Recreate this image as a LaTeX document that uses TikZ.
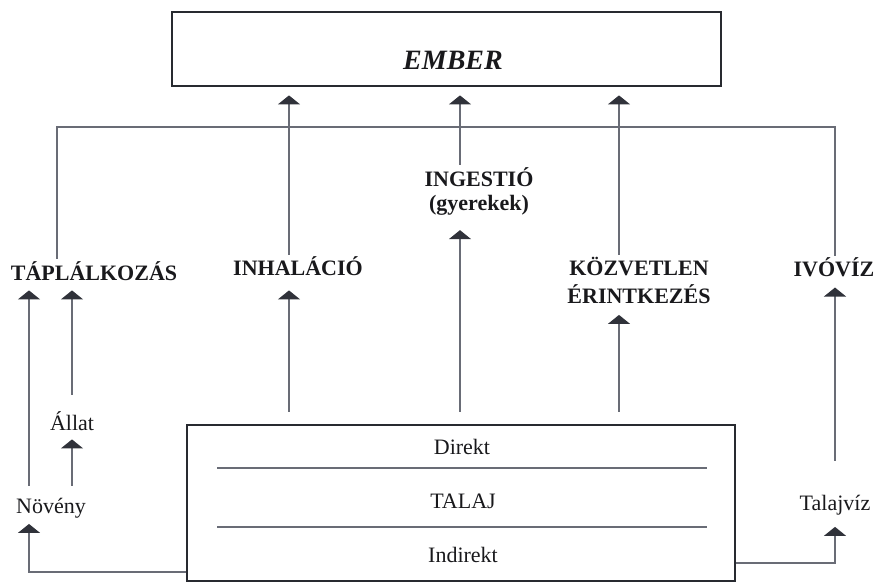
\documentclass[tikz,border=0pt]{standalone}
\usepackage{fontspec}
\setmainfont{Liberation Serif}
\usepackage{xcolor}
\usetikzlibrary{arrows.meta}
\definecolor{linegray}{RGB}{105,108,118}
\definecolor{boxgray}{RGB}{40,42,48}
\definecolor{headgray}{RGB}{48,50,58}
\definecolor{inkblack}{RGB}{25,25,28}
\tikzset{
    box/.style={draw=boxgray, line width=2.8pt, inner sep=0pt},
    link/.style={draw=linegray, line width=1.3pt},
    arr/.style={link, -{Triangle[width=22pt,length=9pt,color=headgray]}},
    lbl/.style={font=\fontsize{22}{24}\selectfont\bfseries, text=inkblack, inner sep=2pt, align=center},
    txt/.style={font=\fontsize{22}{24}\selectfont, text=inkblack, inner sep=2pt},
}
\begin{document}
\begin{tikzpicture}[x=1pt, y=-1pt]
        \useasboundingbox (0,0) rectangle (878,585);

        % the two boxes
        \node[box, minimum width=549pt, minimum height=74pt] (ember) at (446.5,49) {};
        \node[font=\fontsize{28}{30}\selectfont\bfseries\itshape, text=inkblack, anchor=base] (emberlbl) at (453,70) {EMBER};
        \node[box, minimum width=548pt, minimum height=156pt] (talaj) at (461,503) {};
        \draw [linegray, line width=1.2pt] (217,468) -- (707,468);
        \draw [linegray, line width=1.2pt] (217,527) -- (707,527);
        \node[txt, anchor=base] (direkt) at (462,454) {Direkt};
        \node[txt, anchor=base] (talajlbl) at (463,508) {TALAJ};
        \node[txt, anchor=base] (indirekt) at (463,562) {Indirekt};

        % exposure routes
        \node[lbl, anchor=base] (tapl) at (94,280) {TÁPLÁLKOZÁS};
        \node[lbl, anchor=base] (inhal) at (298,276) {INHALÁCIÓ};
        \node[lbl, anchor=north] (ingest) at (479,165) {INGESTIÓ\\(gyerekek)};
        \node[lbl, anchor=north, font=\fontsize{22}{28}\selectfont\bfseries] (kozv) at (639,255) {KÖZVETLEN\\ÉRINTKEZÉS};
        \node[lbl, anchor=base] (ivoviz) at (834,277) {IVÓVÍZ};

        % sources
        \node[txt, anchor=base] (noveny) at (51,513) {Növény};
        \node[txt, anchor=base] (allat) at (72,430) {Állat};
        \node[txt, anchor=base] (talajviz) at (835,510) {Talajvíz};

        % columns and corners
        \coordinate (c1) at (289,0);
        \coordinate (c2) at (460,0);
        \coordinate (c3) at (619,0);
        \coordinate (brl) at (57,127);
        \coordinate (brr) at (835,127);
        \coordinate (nvturn) at (29,572);
        \coordinate (tvturn) at (835,563);

        % into EMBER
        \foreach \lab/\col in {inhal/c1, ingest/c2, kozv/c3} {
            \draw [arr, shorten >=8pt] (\lab.north -| \col) -- (ember.south -| \col);
        }
        \draw [link] (tapl.north -| brl) -- (brl) -- (brr) -- (ivoviz.north -| brr);

        % out of TALAJ
        \draw [arr, shorten <=12pt, shorten >=12pt] (talaj.north -| c1) -- (inhal.south -| c1);
        \draw [arr, shorten <=12pt, shorten >=13pt] (talaj.north -| c2) -- (ingest.south -| c2);
        \draw [arr, shorten <=12pt, shorten >=9pt] (talaj.north -| c3) -- (kozv.south -| c3);

        % left side
        \draw [arr, shorten >=4pt] (talaj.west |- nvturn) -- (nvturn) -- (noveny.south -| nvturn);
        \draw [arr, shorten <=10pt, shorten >=8pt] (noveny.north -| nvturn) -- (tapl.south -| nvturn);
        \draw [arr, shorten <=10pt, shorten >=7pt] (noveny.north -| allat) -- (allat.south);
        \draw [arr, shorten <=14pt, shorten >=8pt] (allat.north) -- (tapl.south -| allat);

        % right side
        \draw [arr, shorten >=10pt] (talaj.east |- tvturn) -- (tvturn) -- (talajviz.south -| tvturn);
        \draw [arr, shorten <=32pt, shorten >=8pt] (talajviz.north -| tvturn) -- (ivoviz.south -| tvturn);
\end{tikzpicture}
\end{document}
